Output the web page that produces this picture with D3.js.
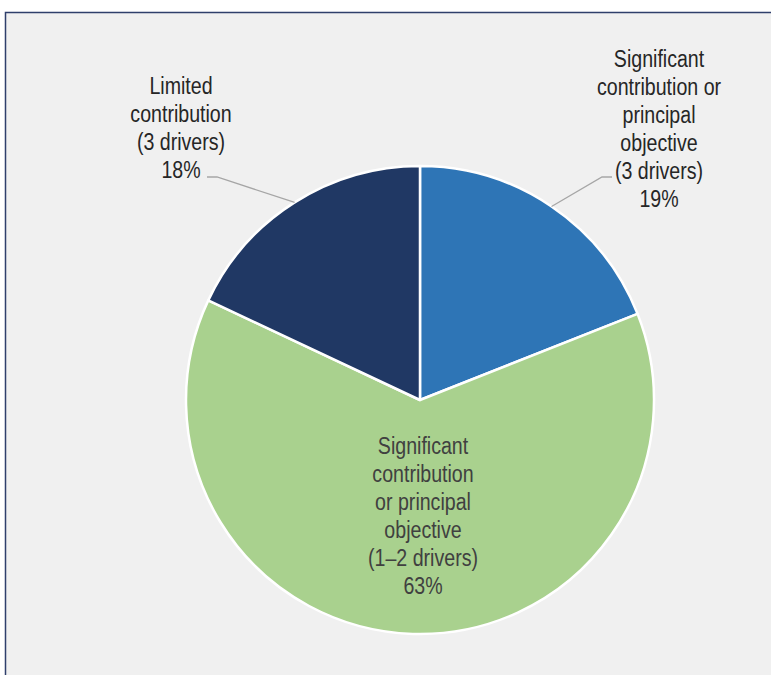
<!DOCTYPE html>
<html>
<head>
<meta charset="utf-8">
<script src="https://cdn.jsdelivr.net/npm/d3@7"></script>
<style>
  html, body { margin: 0; padding: 0; background: #ffffff; }
  svg { display: block; }
</style>
</head>
<body>
<svg id="chart" width="771" height="675"></svg>
<script>
// Share of outcomes by level of contribution
const categories = [
  ["Significant", "contribution or", "principal", "objective", "(3 drivers)"],
  ["Significant", "contribution", "or principal", "objective", "(1\u20132 drivers)"],
  ["Limited", "contribution", "(3 drivers)"]
];
const values = [19, 63, 18];
const percentLabels = ["19%", "63%", "18%"];
const colors = ["#2e75b6", "#a9d18e", "#203864"];

const svg = d3.select("#chart");
const W = 771, H = 675;

// panel background and frame
svg.append("rect").attr("x", 5).attr("y", 12).attr("width", W - 5).attr("height", H - 12)
  .attr("fill", "#f0f0f0");
svg.append("path")
  .attr("d", `M5.5,${H} L5.5,12.5 L${W},12.5`)
  .attr("fill", "none").attr("stroke", "#2f3f6b").attr("stroke-width", 1.5);

const cx = 420, cy = 400, R = 234;
const g = svg.append("g").attr("transform", `translate(${cx},${cy})`);

const pie = d3.pie().sort(null).value(d => d.v);
const arcs = pie(values.map((v, i) => ({ v, i })));
const arc = d3.arc().innerRadius(0).outerRadius(R);

g.selectAll("path.slice").data(arcs).enter().append("path")
  .attr("class", "slice")
  .attr("d", arc)
  .attr("fill", d => colors[d.data.i])
  .attr("stroke", "#ffffff").attr("stroke-width", 2.5).attr("stroke-linejoin", "round");

// label placement (relative to pie centre)
const labelPos = [
  { x: 239, y: -333, inside: false, elbow: [182, -223], end: [192, -223] },
  { x: 3, y: 54, inside: true },
  { x: -239, y: -306, inside: false, elbow: [-203, -223], end: [-213, -223] }
];
const lineH = 28;
const narrow = 0.8; // horizontal compression for a narrow face

arcs.forEach((a, k) => {
  const p = labelPos[k];
  const lines = categories[k].concat([percentLabels[k]]);
  if (!p.inside) {
    const mid = (a.startAngle + a.endAngle) / 2;
    const sx = Math.sin(mid) * R, sy = -Math.cos(mid) * R;
    g.append("polyline")
      .attr("points", [[sx, sy], p.elbow, p.end].map(q => q.join(",")).join(" "))
      .attr("fill", "none").attr("stroke", "#a6a6a6").attr("stroke-width", 1.3);
  }
  const t = g.append("g")
    .attr("transform", `translate(${p.x},${p.y}) scale(${narrow},1)`)
    .append("text")
    .attr("text-anchor", "middle")
    .attr("font-family", "'Liberation Sans', Arial, sans-serif")
    .attr("font-size", 24.5)
    .attr("fill", p.inside ? "#404040" : "#262626");
  lines.forEach((ln, j) => {
    t.append("tspan").attr("x", 0).attr("y", j * lineH).text(ln);
  });
});
</script>
</body>
</html>
